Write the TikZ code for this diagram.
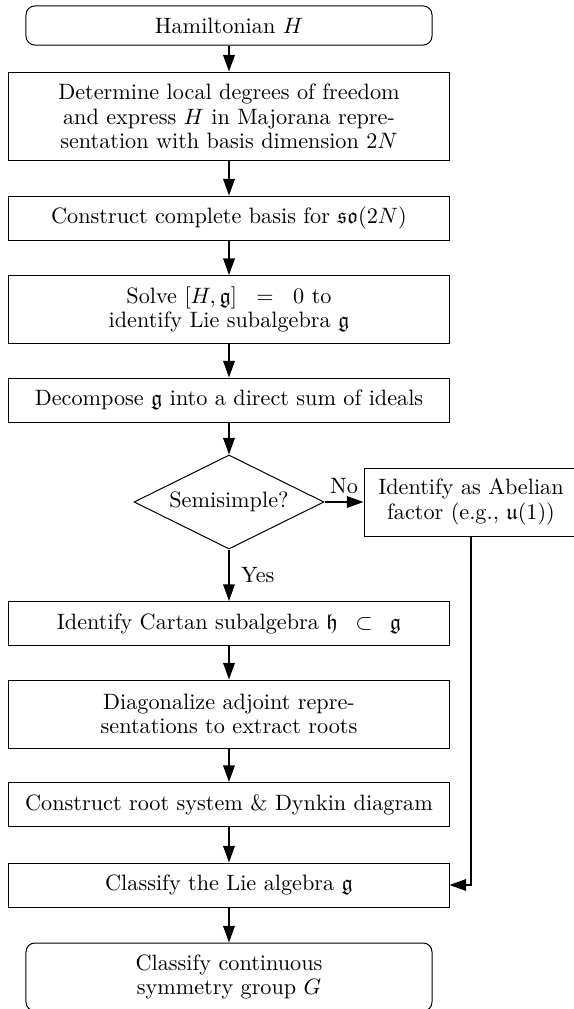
\documentclass[tikz,border=0pt]{standalone}
\usepackage{amssymb}
\usetikzlibrary{shapes.geometric,arrows.meta}
\begin{document}
\begin{tikzpicture}[x=0.45pt,y=-0.45pt,
  every node/.style={font=\fontsize{10pt}{11pt}\selectfont},
  proc/.style={draw,line width=0.45pt,rectangle,align=center,inner sep=0pt,minimum width=198pt,minimum height=19.8pt},
  proc2/.style={proc,minimum height=30.6pt},
  proc3/.style={proc,minimum height=40pt},
  term/.style={draw,line width=0.45pt,rounded corners=4pt,align=center,inner sep=0pt,minimum width=182.7pt,minimum height=17.6pt},
  decide/.style={draw,line width=0.45pt,diamond,aspect=2,inner sep=0pt,minimum width=85.5pt,minimum height=42.3pt},
  arr/.style={draw,line width=0.8pt,-{Triangle[length=7.5pt,width=5.2pt]}},
  lbl/.style={font=\fontsize{10pt}{11pt}\selectfont}
]
\useasboundingbox (0,0) rectangle (574,1009);
\node[term] (n1) at (229,25.5) {Hamiltonian $H$};
\node[proc3] (n2) at (229,116.5) {Determine local degrees of freedom\\and express $H$ in Majorana repre-\\sentation with basis dimension $2N$};
\node[proc] (n3) at (229,218) {Construct complete basis for $\mathfrak{so}(2N)$};
\node[proc2] (n4) at (229,309.5) {Solve $[H,\mathfrak{g}]\hspace{6pt}=\hspace{6pt}0$ to\\identify Lie subalgebra $\mathfrak{g}$};
\node[proc] (n5) at (229,400) {Decompose $\mathfrak{g}$ into a direct sum of ideals};
\node[decide] (d) at (229,502) {Semisimple?};
\node[proc2,minimum width=96.3pt] (ab) at (471,502) {Identify as Abelian\\factor (e.g., $\mathfrak{u}(1)$)};
\node[proc] (n6) at (229,623.5) {Identify Cartan subalgebra $\mathfrak{h}\hspace{5pt}\subset\hspace{5pt}\mathfrak{g}$};
\node[proc2] (n7) at (229,714) {Diagonalize adjoint repre-\\sentations to extract roots};
\node[proc] (n8) at (229,804.5) {Construct root system \& Dynkin diagram};
\node[proc] (n9) at (229,885) {Classify the Lie algebra $\mathfrak{g}$};
\node[term,minimum height=30.6pt] (n10) at (229,977) {Classify continuous\\symmetry group $G$};
\draw[arr] (n1) -- (n2);
\draw[arr] (n2) -- (n3);
\draw[arr] (n3) -- (n4);
\draw[arr] (n4) -- (n5);
\draw[arr] (n5) -- (d);
\draw[arr] (d) -- node[lbl,above] {No} (ab);
\draw[arr] (d) -- node[lbl,right,inner sep=5pt] {Yes} (n6);
\draw[arr] (n6) -- (n7);
\draw[arr] (n7) -- (n8);
\draw[arr] (n8) -- (n9);
\draw[arr] (n9) -- (n10);
\draw[arr] (ab.south) |- (n9.east);
\end{tikzpicture}
\end{document}
